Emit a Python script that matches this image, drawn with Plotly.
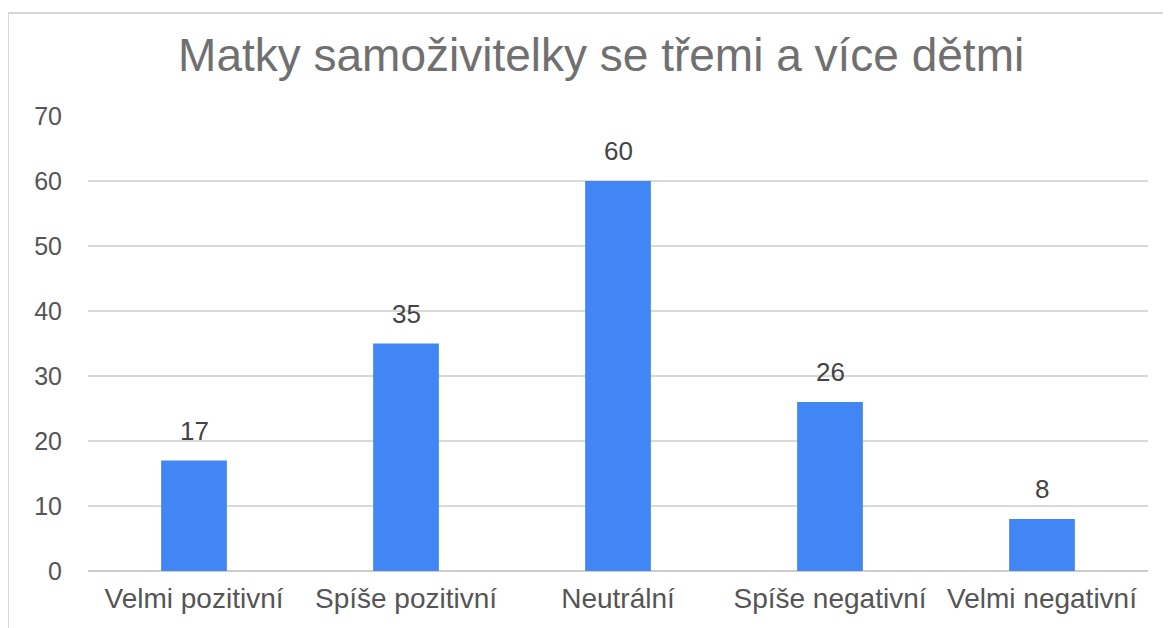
import plotly.graph_objects as go

# Data
categories = ["Velmi pozitivní", "Spíše pozitivní", "Neutrální", "Spíše negativní", "Velmi negativní"]
values = [17, 35, 60, 26, 8]
y_ticks = [0, 10, 20, 30, 40, 50, 60, 70]

FONT = "Liberation Sans, Arial, sans-serif"

fig = go.Figure(
    go.Bar(
        x=categories,
        y=values,
        marker=dict(color="#4285F4", line=dict(width=0)),
        hoverinfo="x+y",
    )
)

# Popisky hodnot nad sloupci
for cat, val in zip(categories, values):
    fig.add_annotation(x=cat, y=val, text=str(val), showarrow=False, yanchor="bottom", yshift=13,
                       font=dict(size=26, color="#444444", family=FONT))

# Rámeček kolem grafu
fig.add_shape(type="rect", xref="paper", yref="paper",
              x0=-0.0755, x1=1.05, y0=-0.3, y1=1.2264,
              line=dict(color="#d6d6d6", width=2), fillcolor="rgba(0,0,0,0)", layer="below")

fig.update_layout(
    width=1163,
    height=620,
    margin=dict(l=80, r=23, t=108, b=57),
    paper_bgcolor="white",
    plot_bgcolor="white",
    bargap=0.69,
    showlegend=False,
    title=dict(text="Matky samoživitelky se třemi a více dětmi", x=0.51, xref="container", xanchor="center",
               y=0.925, yref="container", yanchor="middle",
               font=dict(size=46, color="#707070", family=FONT)),
    xaxis=dict(tickfont=dict(size=28, color="#555555", family=FONT), showgrid=False, showline=False, ticks="",
               ticklabelstandoff=8, automargin=False),
    yaxis=dict(range=[0, 70], tickvals=y_ticks, tickfont=dict(size=25, color="#555555", family=FONT),
               gridcolor="#d9d9d9", gridwidth=1.5, zeroline=True, zerolinecolor="#cccccc", zerolinewidth=2,
               ticks="", ticklabelstandoff=25, automargin=False),
)

fig.write_html("out.html")
